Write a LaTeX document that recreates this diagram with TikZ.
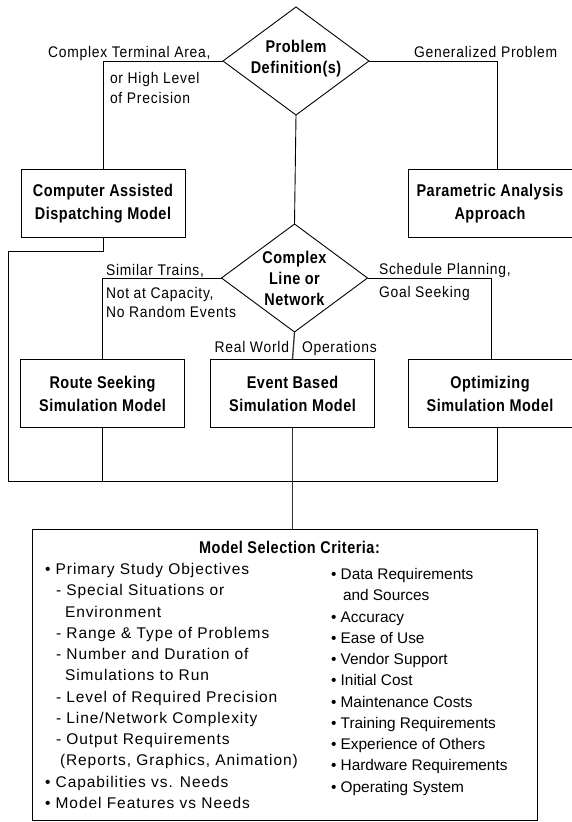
\documentclass[tikz,border=0pt]{standalone}
\usepackage{fontspec}
\setmainfont{Liberation Sans}
\newfontfamily\lblfont{Liberation Sans}[FakeStretch=0.9,LetterSpace=5]
\newfontfamily\bnfont{Liberation Sans}[FakeStretch=0.85,LetterSpace=3]
\newfontfamily\critfont{Liberation Sans}[LetterSpace=6]
\usetikzlibrary{shapes.geometric}
\begin{document}
\begin{tikzpicture}[x=1pt,y=-1pt,
  every node/.style={inner sep=0pt, outer sep=0pt},
  conn/.style={line width=0.9pt, draw=black},
  trunk/.style={line width=1.3pt, draw=black!80},
  modelbox/.style={draw, line width=0.9pt, rectangle, minimum width=164pt, minimum height=68pt, align=center, font=\bnfont\bfseries\fontsize{17}{23}\selectfont},
  decision/.style={draw, line width=0.9pt, diamond, minimum width=146pt, minimum height=108pt},
  dtext/.style={align=center, font=\bnfont\bfseries\fontsize{17}{21}\selectfont},
  lbl/.style={anchor=base west, font=\lblfont\fontsize{15.4}{20}\selectfont},
  critl/.style={anchor=base west, font=\critfont\fontsize{15.5}{21}\selectfont},
  critr/.style={anchor=base west, font=\fontsize{15.4}{21}\selectfont},
]
\useasboundingbox (0,0) rectangle (571,822);

% decisions
\node[decision] (pd) at (296,61) {};
\node[dtext] (pdt) at (296,59) {Problem\\Definition(s)};
\node[decision] (cl) at (294.5,278) {};
\node[dtext] (clt) at (294.5,278.5) {Complex\\Line or\\Network};

% model boxes
\node[modelbox] (cad) at (103,203.5) {Computer Assisted\\Dispatching Model};
\node[modelbox] (par) at (490,203.5) {Parametric Analysis\\Approach};
\node[modelbox] (rs) at (102.5,393.5) {Route Seeking\\Simulation Model};
\node[modelbox] (eb) at (292.5,393.5) {Event Based\\Simulation Model};
\node[modelbox] (opt) at (490,393.5) {Optimizing\\Simulation Model};

% criteria box
\node[draw, line width=0.9pt, rectangle, minimum width=505pt, minimum height=291pt] (msc) at (284.5,674.5) {};

% connectors
\coordinate (parin) at ([xshift=7pt]par.north);
\coordinate (optin) at ([xshift=1pt]opt.north);
\coordinate (optout) at ([xshift=7pt]opt.south);
\coordinate (busL) at (8,481);
\draw[conn] (pd.west) -| (cad.north);
\draw[conn] (pd.east) -| (parin);
\draw[conn] (pd.south) -- (cl.north);
\draw[conn] (cl.west) -| (rs.north);
\draw[conn] (cl.east) -| (optin);
\draw[trunk] (cl.south) -- (eb.north);
\draw[conn] (cad.south) -- ++(0,14) -| (busL) -- (optout |- busL) -- (optout);
\draw[conn] (rs.south) -- (rs.south |- busL);
\draw[trunk] (eb.south) -- (eb.south |- msc.north);

% branch labels
\node[lbl] (la1) at (48,57) {Complex Terminal Area,};
\node[lbl] (la2) at (110,83.5) {or High Level};
\node[lbl] (la3) at (110,103.5) {of Precision};
\node[lbl] (lb1) at (414,57.5) {Generalized Problem};
\node[lbl] (lc1) at (106,275) {Similar Trains,};
\node[lbl] (lc2) at (106,298) {Not at Capacity,};
\node[lbl] (lc3) at (106,317) {No Random Events};
\node[lbl] (ld1) at (379,274.5) {Schedule Planning,};
\node[lbl] (ld2) at (379,297.5) {Goal Seeking};
\node[lbl, anchor=base east] (le1) at (289,352.5) {Real World};
\node[lbl] (le2) at (302,352.5) {Operations};

% criteria text
\node[font=\bnfont\bfseries\fontsize{17}{21}\selectfont, anchor=base] (msct) at (289.5,553) {Model Selection Criteria:};

\node[critl] (c1) at (45,574.5) {• Primary Study Objectives};
\node[critl] (c2) at (56,595.8) {- Special Situations or};
\node[critl] (c3) at (65,617.0) {Environment};
\node[critl] (c4) at (56,638.3) {- Range \& Type of Problems};
\node[critl] (c5) at (56,659.6) {- Number and Duration of};
\node[critl] (c6) at (65,680.9) {Simulations to Run};
\node[critl] (c7) at (56,702.1) {- Level of Required Precision};
\node[critl] (c8) at (56,723.4) {- Line/Network Complexity};
\node[critl] (c9) at (56,744.7) {- Output Requirements};
\node[critl] (c10) at (60,765.9) {(Reports, Graphics, Animation)};
\node[critl] (c11) at (45,787.2) {• Capabilities vs. Needs};
\node[critl] (c12) at (45,808.5) {• Model Features vs Needs};

\node[critr] (r1) at (331,579.5) {• Data Requirements};
\node[critr] (r2) at (343,600.8) {and Sources};
\node[critr] (r3) at (331,622.0) {• Accuracy};
\node[critr] (r4) at (331,643.3) {• Ease of Use};
\node[critr] (r5) at (331,664.6) {• Vendor Support};
\node[critr] (r6) at (331,685.9) {• Initial Cost};
\node[critr] (r7) at (331,707.1) {• Maintenance Costs};
\node[critr] (r8) at (331,728.4) {• Training Requirements};
\node[critr] (r9) at (331,749.7) {• Experience of Others};
\node[critr] (r10) at (331,770.9) {• Hardware Requirements};
\node[critr] (r11) at (331,792.2) {• Operating System};
\end{tikzpicture}
\end{document}
